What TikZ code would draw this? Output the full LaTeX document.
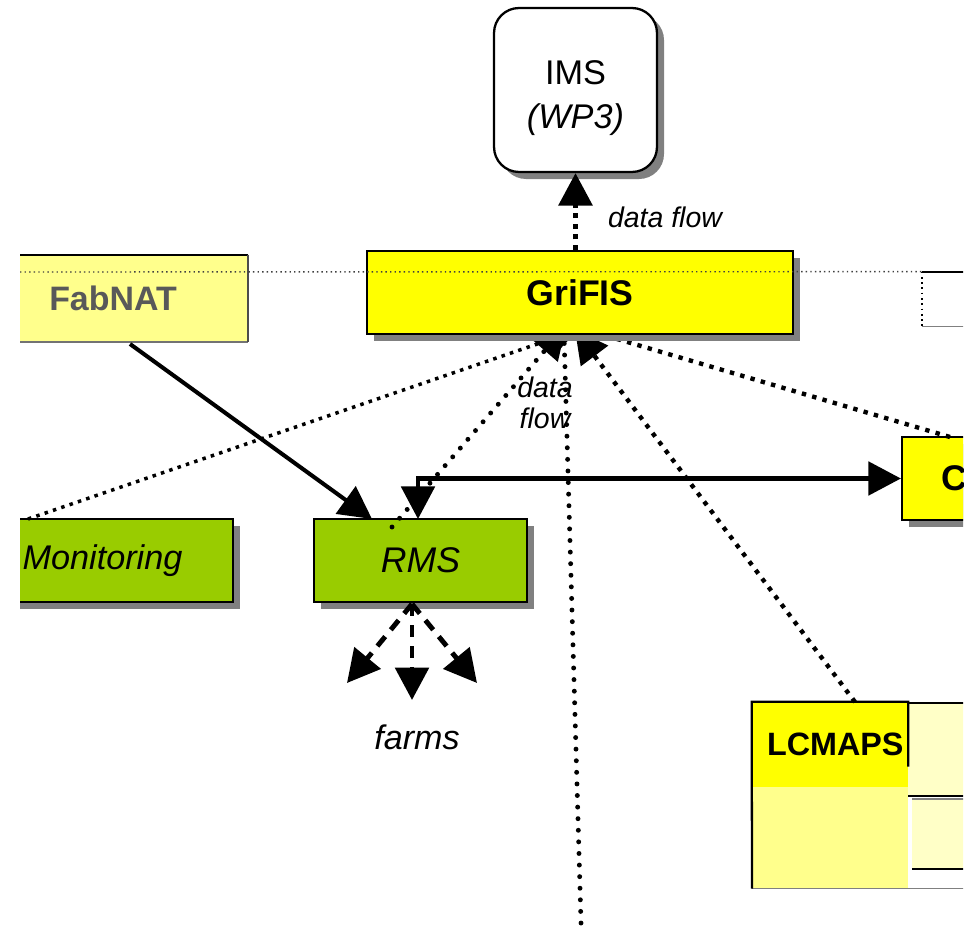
\documentclass[tikz,border=0pt]{standalone}
\usepackage{fontspec}
\setmainfont{Liberation Sans}
\usetikzlibrary{arrows.meta,shadows,calc}
\definecolor{boxyellow}{RGB}{255,255,0}
\definecolor{boxgreen}{RGB}{153,204,0}
\definecolor{shadowgray}{RGB}{128,128,128}
\tikzset{
  shadowed/.style={drop shadow={shadow xshift=4pt,shadow yshift=-4pt,fill=shadowgray,opacity=1}},
  ybox/.style={shadowed,draw=black,line width=1.3pt,fill=boxyellow,inner sep=0pt,
    font=\bfseries\fontsize{20.3}{23}\selectfont},
  gbox/.style={shadowed,draw=black,line width=1.3pt,fill=boxgreen,inner sep=0pt,
    minimum width=4.26cm,minimum height=1.66cm,font=\itshape\fontsize{20.3}{23}\selectfont},
  palebox/.style={inner sep=0pt,fill=boxyellow!45},
  lbl/.style={inner sep=0pt,font=\itshape\fontsize{16.2}{17.5}\selectfont},
  solidline/.style={line width=2.3pt},
  rounddots/.style={line width=2.8pt,line cap=round,dash pattern=on 0pt off 6.6pt},
  sqdots/.style={line width=2.5pt,dash pattern=on 2.5pt off 3.6pt},
  thinsq/.style={line width=2pt,dash pattern=on 2pt off 3pt},
  farmdash/.style={line width=2.8pt,dash pattern=on 7pt off 5pt},
  fine/.style={line width=0.8pt,dash pattern=on 0.8pt off 1.8pt,black!75}
}
\begin{document}
\begin{tikzpicture}[x=0.02cm,y=-0.02cm,>={Triangle[length=18.5pt,width=19pt]}]
\useasboundingbox (0,0) rectangle (969,928);
\begin{scope}
\clip (20,0) rectangle (963,928);

% faded boxes on the left, upper right and lower right
\node[palebox,minimum width=5.4cm,minimum height=1.74cm,text=black!65,
  font=\bfseries\fontsize{19.3}{22}\selectfont] (fabnat) at (113,298.5) {FabNAT};
\draw[line width=1pt] (fabnat.north west) -- (fabnat.north east);
\draw[line width=1pt,black!55] (fabnat.south west) -- (fabnat.south east);
\draw[line width=1pt,black!70] (fabnat.north east) -- (fabnat.south east);

\node[inner sep=0pt,minimum width=1.56cm,minimum height=1.08cm] (trbox) at (961,299) {};
\draw[line width=1pt] (trbox.north west) -- (trbox.north east);
\draw[line width=1pt,dotted] (trbox.north west) -- (trbox.south west);
\draw[line width=0.8pt,black!50] (trbox.south west) -- (trbox.south east);

\node[palebox,anchor=north west,minimum width=3.12cm,minimum height=2.02cm] (lcbase) at (752,787) {};
\node[inner sep=0pt,fill=boxyellow!22,anchor=north west,minimum width=1.2cm,minimum height=1.84cm] (rblock) at (908,703) {};
\node[inner sep=0pt,fill=boxyellow!22,anchor=north west,minimum width=1.1cm,minimum height=1.38cm] (rblockb) at (912,799) {};
\draw[line width=1pt] (rblock.north west) -- (rblock.north east);
\draw[line width=1pt] (rblock.south west) -- (rblock.south east);
\draw[line width=0.8pt,black!50] (rblockb.north west) -- (rblockb.north east);
\draw[line width=1pt] (rblockb.south west) -- (rblockb.south east);
\draw[line width=0.8pt,black!50] (lcbase.south west) -- (rblockb.south east |- lcbase.south);

% LCMAPS
\node[fill=boxyellow,inner sep=0pt,minimum width=3.12cm,minimum height=1.7cm,
  font=\bfseries\fontsize{18.4}{21}\selectfont] (lcmaps) at (830,744.5) {\hspace*{6pt}LCMAPS};
\draw[line width=1.3pt] (lcbase.south west) -- (lcmaps.north west) -- (lcmaps.north east) -- ($(lcmaps.north east)+(0,65)$);

% green boxes
\node[gbox,minimum width=5.22cm,font=\itshape\fontsize{19.5}{23}\selectfont] (monitoring) at (102.5,560.5) {Monitoring};
\node[gbox] (rms) at (420.5,560.5) {RMS};

% box on the right edge
\node[ybox,minimum width=2.1cm,minimum height=1.66cm] (cbox) at (954.5,478.5) {C};

% IMS
\node[shadowed,draw=black,line width=1.3pt,fill=white,rounded corners=0.5cm,inner sep=0pt,
  minimum width=3.26cm,minimum height=3.28cm,align=center,
  font=\fontsize{19.5}{25}\selectfont] (ims) at (575.5,90) {\rule{0pt}{23pt}IMS\\\textit{(WP3)}};

% points where the connectors meet GriFIS
\coordinate (gfrms) at (566,326);
\coordinate (gfmon) at (578,330);
\coordinate (gfvert) at (564,334);
\coordinate (gflc) at (575,330);
\coordinate (gfc) at (607,336);
\coordinate (monout) at (28,519);
\coordinate (rmsdot) at (392,527);
\coordinate (lcout) at (855,702);
\coordinate (cout) at (950,437);
\coordinate (bottomend) at (581,923);
\coordinate (fabout) at (130,344);
\coordinate (rmsleft) at (372,519);
\coordinate (rmsmid) at (418,519);

% connectors towards GriFIS
\draw[thinsq,->] (monout) -- (gfmon);
\draw[rounddots,->] (rmsdot) -- (gfrms);
\draw[rounddots] (bottomend) -- (gfvert);
\draw[sqdots,->] (lcout) -- (gflc);
\draw[sqdots] (cout) -- (gfc);

% solid connectors
\draw[solidline,->] (fabout) -- (rmsleft);
\draw[solidline,<->] (cbox.west) -- (cbox.west -| rmsmid) -- (rmsmid);

% farms
\coordinate (farmsrc) at (412,604);
\coordinate (farml) at (347,683);
\coordinate (farmm) at (412,700);
\coordinate (farmr) at (477,683);
\draw[farmdash,->] (farmsrc) -- (farml);
\draw[farmdash,->] (farmsrc) -- (farmm);
\draw[farmdash,->] (farmsrc) -- (farmr);
\node[inner sep=0pt,font=\itshape\fontsize{19.4}{22}\selectfont] (farms) at (417,737) {farms};

% GriFIS on top of the incoming arrow tips
\node[ybox,minimum width=8.52cm,minimum height=1.66cm] (grifis) at (580,292.5) {GriFIS};

% GriFIS to IMS
\draw[line width=2.8pt,dash pattern=on 3pt off 3pt,->] (ims.south |- grifis.north) -- (ims.south);
\node[lbl] (dfims) at (665,217) {data flow};
\node[lbl,align=center] (dfrms) at (545,403) {data\\flow};

% thin dotted guide line
\draw[fine] (20,272) coordinate (guide) -- (trbox.north west);
\end{scope}
\end{tikzpicture}
\end{document}
